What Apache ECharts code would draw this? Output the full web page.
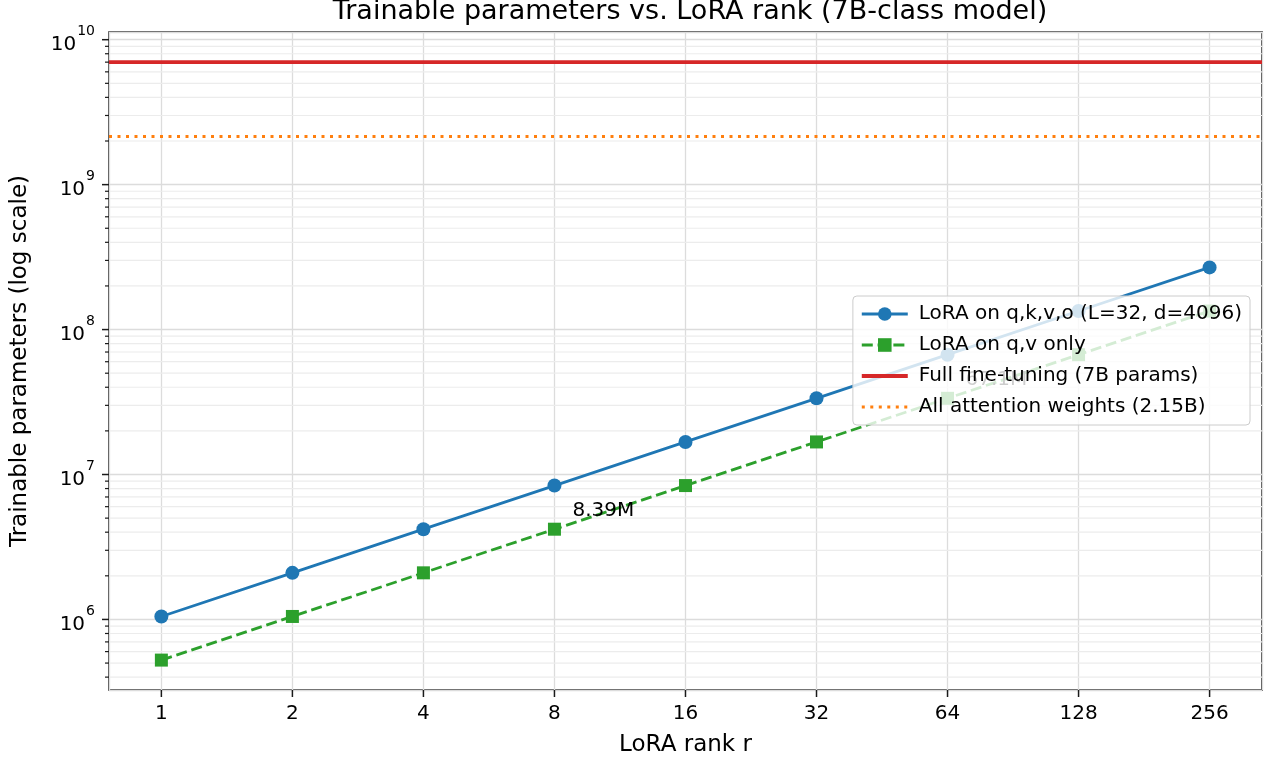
<!DOCTYPE html>
<html><head><meta charset="utf-8">
<script src="https://cdn.jsdelivr.net/npm/echarts@6/dist/echarts.min.js"></script>
<style>html,body{margin:0;padding:0;background:#fff}#c{width:1271px;height:765px}</style>
</head><body><div id="c"></div>
<script>
// ---- data ----
const ranks = [1, 2, 4, 8, 16, 32, 64, 128, 256];
const qkvoParams = [1048576, 2097152, 4194304, 8388608, 16777216, 33554432, 67108864, 134217728, 268435456];
const qvParams = [524288, 1048576, 2097152, 4194304, 8388608, 16777216, 33554432, 67108864, 134217728];
const fullFineTuning = 7.0e9;
const allAttention = 2.15e9;
const annotatedRanks = [8, 64];
const yMajorExponents = [6, 7, 8, 9, 10];
const yMinorMultipliers = [2, 3, 4, 5, 6, 7, 8, 9];
const yMinorExponents = [5, 6, 7, 8, 9];
const xLimits = [0.758, 337.8];
const yLimits = [3.26e5, 1.13e10];
const names = ['LoRA on q,k,v,o (L=32, d=4096)', 'LoRA on q,v only', 'Full fine-tuning (7B params)', 'All attention weights (2.15B)'];

const FONT = 'DejaVu Sans';
const chart = echarts.init(document.getElementById('c'), null, {renderer: 'canvas'});

// tick / minor-grid marks, positioned through the axes
const tickData = [];
yMinorExponents.forEach(e => yMinorMultipliers.forEach(m => {
  const v = m * Math.pow(10, e);
  if (v > yLimits[0] && v < yLimits[1]) tickData.push([xLimits[0], v, 0]);
}));
yMajorExponents.forEach(e => tickData.push([xLimits[0], Math.pow(10, e), 1]));
ranks.forEach(r => tickData.push([r, yLimits[0], 2]));

const isPow = (v, b) => { const l = Math.log(v) / Math.log(b); return Math.abs(l - Math.round(l)) < 1e-6; };

const option = {
  animation: false,
  backgroundColor: '#fff',
  title: {
    text: 'Trainable parameters vs. LoRA rank (7B-class model)',
    left: 685, top: -7, textAlign: 'center',
    textStyle: {fontFamily: FONT, fontSize: 27, fontWeight: 'normal', color: '#000'}
  },
  legend: {
    data: names.map((n, i) => i < 2 ? {name: n} : {name: n, itemStyle: {opacity: 0}}),
    orient: 'vertical',
    right: 21, top: 296,
    itemWidth: 46, itemHeight: 17, itemGap: 11,
    padding: [8, 8, 8, 7],
    backgroundColor: 'rgba(255,255,255,0.8)',
    borderColor: '#cccccc', borderWidth: 1, borderRadius: 4,
    lineStyle: {width: 'inherit'},
    textStyle: {fontFamily: FONT, fontSize: 20, color: '#000', padding: [0, 0, 0, 6]}
  },
  grid: {left: 109, right: 9, top: 32, bottom: 75, show: true, borderColor: '#1a1a1a', borderWidth: 1.5, containLabel: false},
  xAxis: {
    type: 'log', logBase: 2, min: xLimits[0], max: xLimits[1], splitNumber: 9,
    name: 'LoRA rank r', nameLocation: 'middle', nameGap: 44,
    nameTextStyle: {fontFamily: FONT, fontSize: 23, color: '#000'},
    axisLine: {show: false}, axisTick: {show: false},
    axisLabel: {fontFamily: FONT, fontSize: 20, color: '#000', margin: 14,
      formatter: v => isPow(v, 2) ? String(Math.round(v)) : ''},
    splitLine: {show: true, lineStyle: {color: '#dcdcdc', width: 1.3}}
  },
  yAxis: {
    type: 'log', logBase: 10, min: yLimits[0], max: yLimits[1], splitNumber: 5,
    name: 'Trainable parameters (log scale)', nameLocation: 'middle', nameGap: 77,
    nameTextStyle: {fontFamily: FONT, fontSize: 23, color: '#000'},
    axisLine: {show: false}, axisTick: {show: false},
    axisLabel: {fontFamily: FONT, margin: 14, color: '#000',
      formatter: v => isPow(v, 10) ? '{b|10}{s|' + Math.round(Math.log10(v)) + '}' : '',
      rich: {
        b: {fontFamily: FONT, fontSize: 20, color: '#000', lineHeight: 30, verticalAlign: 'bottom'},
        s: {fontFamily: FONT, fontSize: 14, color: '#000', lineHeight: 30, verticalAlign: 'top', padding: [0, 0, 0, 1]}
      }},
    splitLine: {show: true, lineStyle: {color: '#dcdcdc', width: 1.3}}
  },
  series: [
    {
      type: 'custom', silent: true, z: 1, clip: false,
      data: tickData,
      renderItem: (params, api) => {
        const cs = params.coordSys;
        const kind = api.value(2);
        const p = api.coord([api.value(0), api.value(1)]);
        if (kind === 0) {
          return {type: 'group', children: [
            {type: 'line', shape: {x1: cs.x, y1: p[1], x2: cs.x + cs.width, y2: p[1]}, style: {stroke: '#ececec', lineWidth: 1.2}},
            {type: 'line', shape: {x1: cs.x - 4, y1: p[1], x2: cs.x, y2: p[1]}, style: {stroke: '#1a1a1a', lineWidth: 1.2}}
          ]};
        } else if (kind === 1) {
          return {type: 'line', shape: {x1: cs.x - 7, y1: p[1], x2: cs.x, y2: p[1]}, style: {stroke: '#1a1a1a', lineWidth: 1.5}};
        }
        return {type: 'line', shape: {x1: p[0], y1: cs.y + cs.height, x2: p[0], y2: cs.y + cs.height + 7}, style: {stroke: '#1a1a1a', lineWidth: 1.5}};
      }
    },
    {
      name: names[0], type: 'line', z: 3,
      data: ranks.map((r, i) => annotatedRanks.includes(r)
        ? {value: [r, qkvoParams[i]], label: {show: true}}
        : [r, qkvoParams[i]]),
      symbol: 'circle', symbolSize: 14,
      itemStyle: {color: '#1f77b4'},
      lineStyle: {color: '#1f77b4', width: 2.8},
      label: {show: false, position: 'right', distance: 0, offset: [11, 25],
        fontFamily: FONT, fontSize: 20, color: '#000',
        formatter: p => (p.value[1] / 1e6).toPrecision(3) + 'M'}
    },
    {
      name: names[1], type: 'line', z: 3,
      data: ranks.map((r, i) => [r, qvParams[i]]),
      symbol: 'rect', symbolSize: 13,
      itemStyle: {color: '#2ca02c'},
      lineStyle: {color: '#2ca02c', width: 2.8, type: [11, 4.8]}
    },
    {
      name: names[2], type: 'line', z: 3,
      data: [[xLimits[0], fullFineTuning], [xLimits[1], fullFineTuning]],
      symbol: 'none',
      itemStyle: {color: '#d62728'},
      lineStyle: {color: '#d62728', width: 3.8}
    },
    {
      name: names[3], type: 'line', z: 3,
      data: [[xLimits[0], allAttention], [xLimits[1], allAttention]],
      symbol: 'none',
      itemStyle: {color: '#ff7f0e'},
      lineStyle: {color: '#ff7f0e', width: 3, type: [3, 5.5]}
    }
  ]
};
chart.setOption(option);
</script>
</body></html>
